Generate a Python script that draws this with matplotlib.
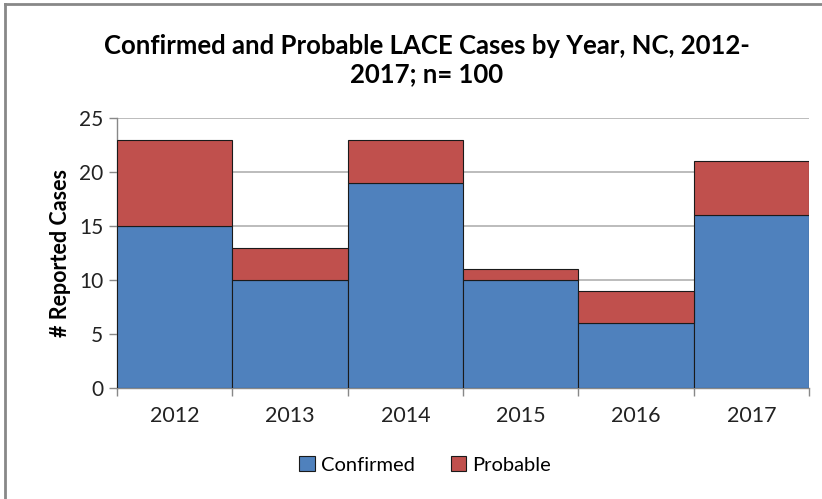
import matplotlib
matplotlib.use("Agg")
import matplotlib.pyplot as plt
from matplotlib.patches import Rectangle
from matplotlib.lines import Line2D
import numpy as np

years = ["2012", "2013", "2014", "2015", "2016", "2017"]
confirmed = [15, 10, 19, 10, 6, 16]
probable = [8, 3, 4, 1, 3, 5]

plt.rcParams['font.family'] = ['Lato', 'DejaVu Sans']

fig = plt.figure(figsize=(8.22, 4.99), dpi=100)
ax = fig.add_axes([117/822, 1-388/499, (809-117)/822, (388-118)/499])

x = np.arange(len(years))
blue = "#4F81BD"
red = "#C0504D"
ax.bar(x, confirmed, width=1.0, color=blue, edgecolor="#1a1a1a", linewidth=0.8, label="Confirmed", zorder=3)
ax.bar(x, probable, width=1.0, bottom=confirmed, color=red, edgecolor="#1a1a1a", linewidth=0.8, label="Probable", zorder=3)

ax.set_xlim(-0.5, len(years) - 0.5)
ax.set_ylim(0, 25)
ax.set_yticks([0, 5, 10, 15, 20, 25])
ax.yaxis.grid(True, color="#b0b0b0", linewidth=1.2, zorder=0)
ax.set_axisbelow(True)

ax.set_xticks(np.arange(-0.5, len(years)), labels=[])
ax.set_xticks(x, labels=years, minor=True)
ax.tick_params(axis='x', which='major', length=6, color="#888888", width=1)
ax.tick_params(axis='x', which='minor', length=0, pad=13, labelsize=15.5, labelcolor="#222222")
ax.tick_params(axis='y', length=6, color="#888888", width=1, labelsize=15, labelcolor="#222222", pad=4)

for s in ["top", "right"]:
    ax.spines[s].set_visible(False)
for s in ["left", "bottom"]:
    ax.spines[s].set_color("#888888")
    ax.spines[s].set_linewidth(1)

ax.set_ylabel("# Reported Cases", fontsize=15.5, fontweight="bold", labelpad=6)

fig.text(427/822, 1-60/499, "Confirmed and Probable LACE Cases by Year, NC, 2012-\n2017; n= 100",
         ha="center", va="center", fontsize=18.5, fontweight="bold", linespacing=1.25)

handles = [Rectangle((0, 0), 1, 1, facecolor=blue, edgecolor="#1a1a1a", linewidth=0.8),
           Rectangle((0, 0), 1, 1, facecolor=red, edgecolor="#1a1a1a", linewidth=0.8)]
fig.legend(handles, ["Confirmed", "Probable"], loc="center", bbox_to_anchor=(425/822, 1-465/499),
           ncol=2, frameon=False, fontsize=14.5, handlelength=0.75, handleheight=0.75,
           handletextpad=0.3, columnspacing=1.8)

fig.add_artist(Line2D([5/822, 5/822], [0, 1-4/499], color="#888888", linewidth=2, transform=fig.transFigure))
fig.add_artist(Line2D([5/822, 1], [1-4/499, 1-4/499], color="#888888", linewidth=2, transform=fig.transFigure))

fig.savefig("out.png", dpi=100)
